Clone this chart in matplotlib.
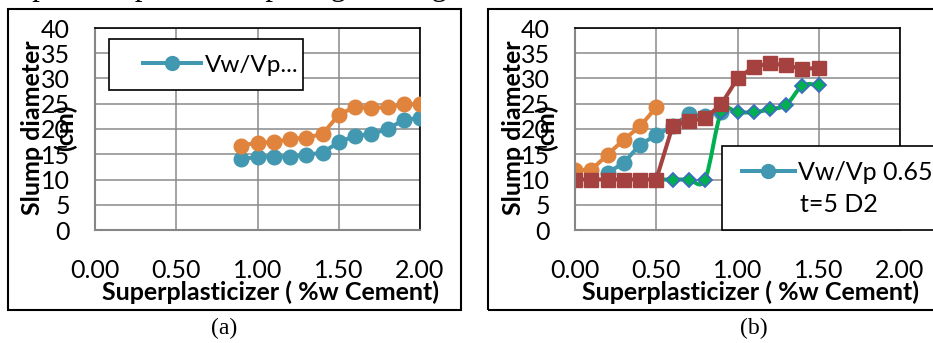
import matplotlib.pyplot as plt
from matplotlib.patches import Rectangle, PathPatch
from matplotlib.path import Path
from matplotlib.lines import Line2D

plt.rcParams['font.family'] = ['Lato', 'DejaVu Sans']

W, H = 933, 343

# panel (a): Vw/Vp series
a_x = [0.9, 1.0, 1.1, 1.2, 1.3, 1.4, 1.5, 1.6, 1.7, 1.8, 1.9, 2.0]
a_teal = [14.0, 14.5, 14.5, 14.5, 14.9, 15.3, 17.4, 18.6, 19.0, 20.0, 21.8, 22.2]
a_orange = [16.7, 17.3, 17.4, 18.0, 18.3, 19.0, 22.8, 24.4, 24.2, 24.3, 24.9, 24.9]

# panel (b)
b_orange_x = [0.0, 0.1, 0.2, 0.3, 0.4, 0.5]
b_orange = [11.9, 11.9, 14.9, 17.9, 20.5, 24.3]
b_teal_x = [0.2, 0.3, 0.4, 0.5, 0.6, 0.7, 0.8, 0.9]
b_teal = [11.3, 13.3, 16.9, 18.8, 20.5, 22.9, 22.6, 23.4]
b_green_x = [0.5, 0.6, 0.7, 0.8, 0.9, 1.0, 1.1, 1.2, 1.3, 1.4, 1.5]
b_green = [10.0, 10.0, 10.0, 10.0, 23.3, 23.3, 23.3, 23.9, 24.8, 28.6, 28.7]
b_red_x = [0.0, 0.1, 0.2, 0.3, 0.4, 0.5, 0.6, 0.7, 0.8, 0.9, 1.0, 1.1, 1.2, 1.3, 1.4, 1.5]
b_red = [10.0, 10.0, 10.0, 10.0, 10.0, 10.0, 20.5, 21.6, 22.1, 24.9, 30.0, 32.3, 33.0, 32.6, 31.9, 32.1]

x_ticks = [0.0, 0.5, 1.0, 1.5, 2.0]
x_labels = ['0.00', '0.50', '1.00', '1.50', '2.00']
y_ticks = [0, 5, 10, 15, 20, 25, 30, 35, 40]

TEAL = '#4198b0'
ORANGE = '#e0833c'
RED = '#a5423f'
GREEN = '#00b050'
DIAMOND_EDGE = '#3d6cc0'
FS = 18


def fx(px):
    return px / W


def fy(py):
    return 1 - py / H


def smooth_path(xs, ys):
    # cubic bezier through the points, like a smoothed spreadsheet line
    pts = list(zip(xs, ys))
    n = len(pts)
    verts = [pts[0]]
    codes = [Path.MOVETO]
    for i in range(n - 1):
        p0 = pts[max(i - 1, 0)]
        p1 = pts[i]
        p2 = pts[i + 1]
        p3 = pts[min(i + 2, n - 1)]
        c1 = (p1[0] + (p2[0] - p0[0]) / 6, p1[1] + (p2[1] - p0[1]) / 6)
        c2 = (p2[0] - (p3[0] - p1[0]) / 6, p2[1] - (p3[1] - p1[1]) / 6)
        verts += [c1, c2, p2]
        codes += [Path.CURVE4] * 3
    return Path(verts, codes)


def setup_axes(ax):
    ax.set_xlim(0, 2.0)
    ax.set_ylim(0, 40)
    ax.set_xticks(x_ticks)
    ax.set_xticklabels(x_labels)
    ax.set_yticks(y_ticks)
    ax.grid(True, color='#8a8a8a', linewidth=1.1)
    ax.set_axisbelow(True)
    ax.tick_params(axis='both', length=0, labelsize=FS)
    ax.tick_params(axis='y', pad=18)
    ax.tick_params(axis='x', pad=21)
    for side in ['left', 'bottom']:
        ax.spines[side].set_color('#868686')
        ax.spines[side].set_linewidth(1.5)
    for side in ['top', 'right']:
        ax.spines[side].set_color('black')
        ax.spines[side].set_linewidth(1.2)


fig = plt.figure(figsize=(9.33, 3.43), dpi=100)

# text line above the figures, mostly cut off by the page
fig.text(fx(625), fy(-5), 'upatan dapat dilihat pada gambar-gambar berikut.',
         family='Liberation Serif', fontsize=22, ha='right', va='baseline')

# outer frames
fig.add_artist(Rectangle((fx(8), fy(310)), fx(453), 301 / H, transform=fig.transFigure,
                         fill=False, ec='black', lw=1.5))
fig.add_artist(Rectangle((fx(488), fy(310)), fx(460), 301 / H, transform=fig.transFigure,
                         fill=False, ec='black', lw=1.5))

ax1 = fig.add_axes([fx(95), fy(230), fx(325), 202 / H])
ax2 = fig.add_axes([fx(575), fy(230), fx(325), 202 / H])
setup_axes(ax1)
setup_axes(ax2)

# (a)
ax1.plot(a_x, a_teal, color=TEAL, lw=2.9, marker='o', ms=10.5, zorder=3)
ax1.plot(a_x, a_orange, color=ORANGE, lw=2.9, marker='o', ms=10.5, zorder=3)

ax1.add_patch(Rectangle((fx(109), fy(90)), fx(194), 51 / H, transform=fig.transFigure,
                        fc='white', ec='black', lw=1.2, zorder=4, clip_on=False))
h_a = Line2D([], [], color=TEAL, lw=2.9, marker='o', ms=10)
ax1.legend([h_a], ['Vw/Vp...'], frameon=False, loc='center left',
           bbox_to_anchor=(fx(143), fy(65)), bbox_transform=fig.transFigure,
           borderpad=0, borderaxespad=0, handlelength=2.4, handletextpad=0.13,
           fontsize=17.5)

# (b)
ax2.plot(b_orange_x, b_orange, color=ORANGE, lw=2.9, marker='o', ms=10.5, zorder=2)
ax2.plot(b_teal_x, b_teal, color=TEAL, lw=2.9, marker='o', ms=10.5, zorder=2.1)
ax2.add_patch(PathPatch(smooth_path(b_green_x, b_green), fill=False, ec=GREEN, lw=2.9,
                        zorder=2.2))
ax2.plot(b_green_x, b_green, linestyle='none', marker='D', ms=7.5, mfc=GREEN,
         mec=DIAMOND_EDGE, mew=1.3, zorder=2.3)
ax2.plot(b_red_x, b_red, color=RED, lw=2.9, marker='s', ms=9.5, zorder=2.4)

ax2.add_patch(Rectangle((fx(722), fy(230)), fx(230), 84 / H, transform=fig.transFigure,
                        fc='white', ec='black', lw=1.2, zorder=4, clip_on=False))
h_b = Line2D([], [], color=TEAL, lw=2.9, marker='o', ms=10)
ax2.legend([h_b], ['Vw/Vp 0.65'], frameon=False, loc='center left',
           bbox_to_anchor=(fx(742), fy(172)), bbox_transform=fig.transFigure,
           borderpad=0, borderaxespad=0, handlelength=2.1, handletextpad=0.12,
           fontsize=FS)
fig.text(fx(800), fy(204), 't=5 D2', fontsize=FS, ha='left', va='center')

# axis titles
for cx, lx in [(49, 270), (530, 750)]:
    fig.text(fx(cx), fy(128), 'Slump diameter\n(cm)', rotation=90, ha='center',
             va='center', multialignment='center', fontsize=FS, weight='bold',
             linespacing=1.5)
    fig.text(fx(lx), fy(292), 'Superplasticizer ( %w Cement)', ha='center', va='center',
             fontsize=FS, weight='bold')

# captions
fig.text(fx(224), fy(328), '(a)', family='Liberation Serif', fontsize=17,
         ha='center', va='center')
fig.text(fx(754), fy(328), '(b)', family='Liberation Serif', fontsize=17,
         ha='center', va='center')

fig.savefig('out.png', dpi=100)
